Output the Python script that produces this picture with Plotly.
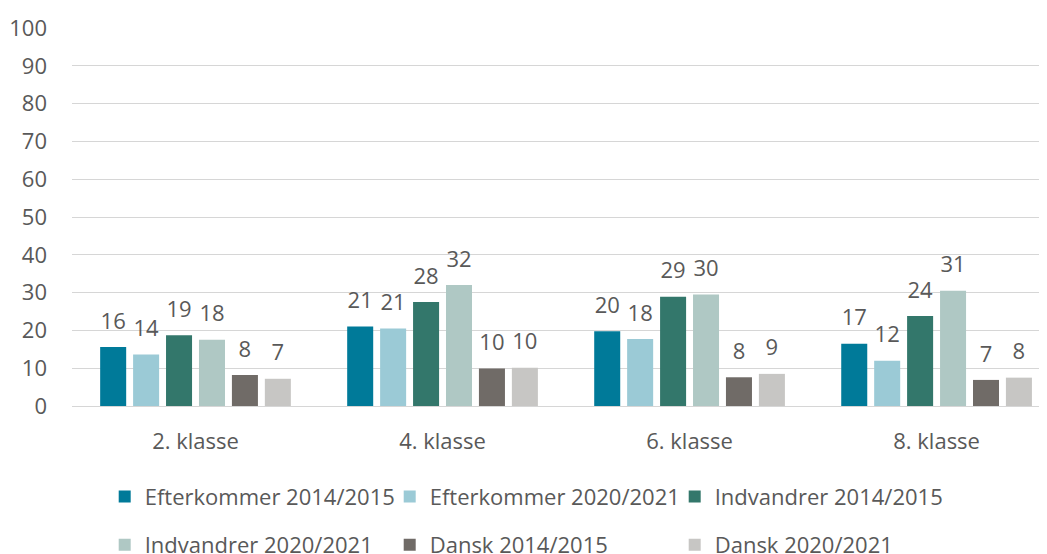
import plotly.graph_objects as go

categories = ["2. klasse", "4. klasse", "6. klasse", "8. klasse"]

series_names = [
    "Efterkommer 2014/2015",
    "Efterkommer 2020/2021",
    "Indvandrer 2014/2015",
    "Indvandrer 2020/2021",
    "Dansk 2014/2015",
    "Dansk 2020/2021",
]

efterkommer_1415 = [15.6, 21.0, 19.8, 16.5]
efterkommer_2021 = [13.6, 20.5, 17.7, 12.0]
indvandrer_1415 = [18.7, 27.5, 28.9, 23.8]
indvandrer_2021 = [17.5, 32.0, 29.5, 30.5]
dansk_1415 = [8.2, 9.9, 7.6, 6.9]
dansk_2021 = [7.2, 10.1, 8.5, 7.5]

series_values = [
    efterkommer_1415,
    efterkommer_2021,
    indvandrer_1415,
    indvandrer_2021,
    dansk_1415,
    dansk_2021,
]

colors = ["#007A99", "#9BCAD6", "#33776B", "#AFC8C4", "#706B67", "#C7C6C4"]
legend_ids = ["legend", "legend", "legend", "legend2", "legend2", "legend2"]

y_ticks = list(range(0, 101, 10))

FONT = "Open Sans"
TXT = "#595959"
FS = 22

# the page body adds an 8px margin, so the figure is 8px smaller than the window
W, H = 1039, 546

fig = go.Figure()

for name, vals, col, lg in zip(series_names, series_values, colors, legend_ids):
    fig.add_trace(go.Bar(
        x=categories, y=vals, name=name,
        marker=dict(color=col, line=dict(width=0)),
        legend=lg,
        hoverinfo="skip",
    ))

# data labels (placed above each bar, grouped the same way as the bars)
for name, vals in zip(series_names, series_values):
    fig.add_trace(go.Scatter(
        x=categories, y=vals, mode="markers+text",
        texttemplate="%{y:.0f}", textposition="top center",
        textfont=dict(family=FONT, size=FS, color=TXT),
        marker=dict(size=19, opacity=0),
        showlegend=False, hoverinfo="skip", cliponaxis=False,
    ))

legend_common = dict(
    orientation="h",
    font=dict(family=FONT, size=FS, color=TXT),
    bgcolor="rgba(0,0,0,0)",
    entrywidth=240, entrywidthmode="pixels",
    xref="container", yref="container",
    xanchor="left", yanchor="middle",
    traceorder="normal",
)

fig.update_layout(
    width=W, height=H,
    margin=dict(l=64, r=0, t=20, b=148),
    paper_bgcolor="white", plot_bgcolor="white",
    font=dict(family=FONT, size=FS, color=TXT),
    barmode="group", bargap=0.2, bargroupgap=0.21,
    scattermode="group", scattergap=0.2,
    legend=dict(x=96.7 / W, y=1 - 488.7 / H, **legend_common),
    legend2=dict(x=96.7 / W, y=1 - 537 / H, **legend_common),
    xaxis=dict(
        range=[-0.5, 3.447], showgrid=False, showline=False, ticks="",
        tickfont=dict(family=FONT, size=FS, color=TXT),
        ticklabelstandoff=20, fixedrange=True,
    ),
    yaxis=dict(
        range=[0, 100], tickvals=y_ticks, showgrid=True,
        gridcolor="#D6D6D6", gridwidth=1.3,
        zeroline=True, zerolinecolor="#D6D6D6", zerolinewidth=1.3,
        showline=False, ticks="",
        tickfont=dict(family=FONT, size=FS, color=TXT),
        ticklabelstandoff=24, fixedrange=True,
    ),
    showlegend=True,
)

fig.write_html("out.html")
